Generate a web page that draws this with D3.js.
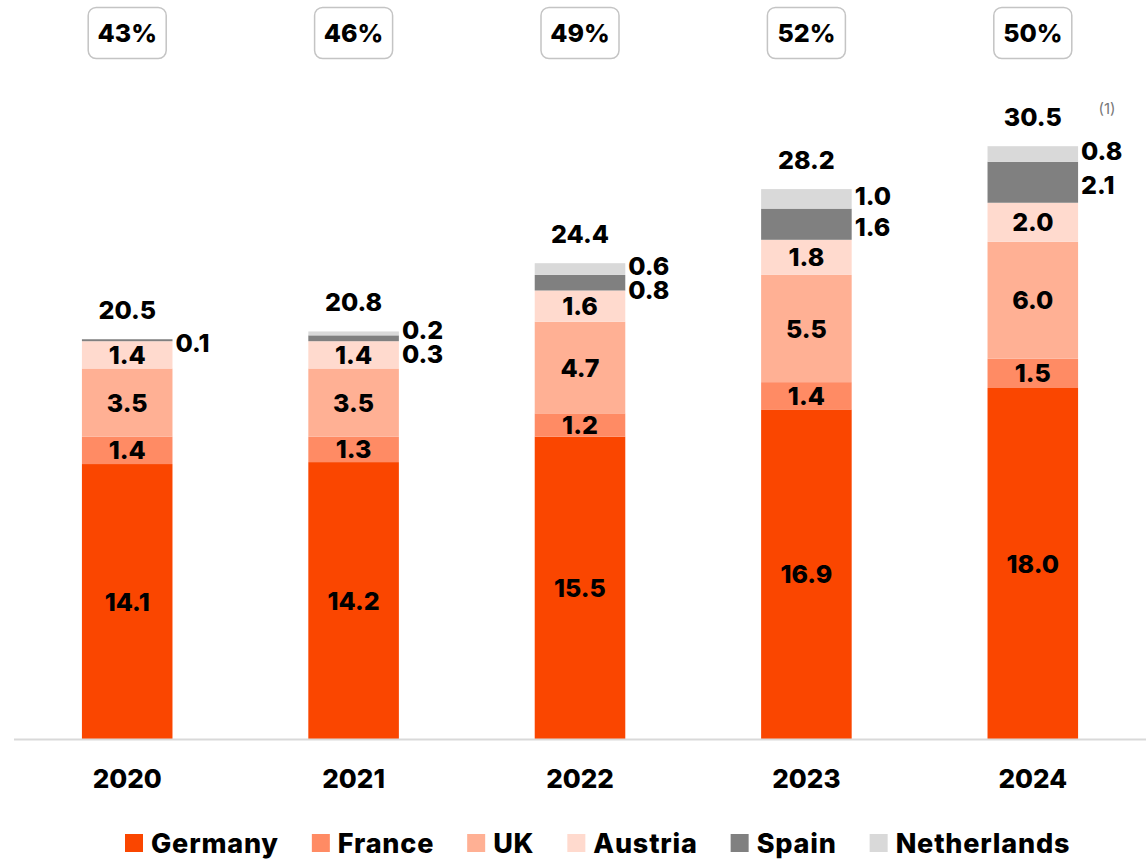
<!DOCTYPE html>
<html>
<head>
  <meta charset="utf-8">
  <script src="https://d3js.org/d3.v7.min.js"></script>
  <style>
  body {
    margin: 0;
    background: #fff;
  }
  text {
    font-family: Inter, "DejaVu Sans", sans-serif;
    font-weight: 800;
    fill: #000;
  }
  .x.axis path.domain {
    stroke: #d9d9d9;
    stroke-width: 2;
  }
  .x.axis text {
    font-size: 26px;
  }
</style>
</head>
<body>
<script>

  var years = ["2020", "2021", "2022", "2023", "2024"];
  var countries = ["Germany", "France", "UK", "Austria", "Spain", "Netherlands"];
  var germany     = [14.1, 14.2, 15.5, 16.9, 18.0];
  var france      = [1.4, 1.3, 1.2, 1.4, 1.5];
  var uk          = [3.5, 3.5, 4.7, 5.5, 6.0];
  var austria     = [1.4, 1.4, 1.6, 1.8, 2.0];
  var spain       = [0.1, 0.3, 0.8, 1.6, 2.1];
  var netherlands = [0, 0.2, 0.6, 1.0, 0.8];
  var totals      = ["20.5", "20.8", "24.4", "28.2", "30.5"];
  var shares      = ["43%", "46%", "49%", "52%", "50%"];
  var colors = ["#fa4600", "#ff8b64", "#ffb094", "#ffdace", "#808080", "#d9d9d9"];

  var width = 1146, height = 860;

  var svg = d3.select("body").append("svg")
    .attr("width", width)
    .attr("height", height);

  var x = d3.scaleBand().domain(years).range([14, 1146])
    .paddingInner(0.6).paddingOuter(0.3);
  var y = d3.scaleLinear().domain([0, 32]).range([739, 739 - 19.5 * 32]);

  var series = [germany, france, uk, austria, spain, netherlands];
  var table = years.map((yr, i) => {
    var row = {year: yr};
    countries.forEach((c, k) => { row[c] = series[k][i]; });
    return row;
  });
  var stacked = d3.stack().keys(countries)(table);

  // bars
  svg.append("g").selectAll("g")
    .data(stacked)
    .enter().append("g")
      .attr("fill", (d, k) => colors[k])
    .selectAll("rect")
    .data(d => d)
    .enter().append("rect")
      .attr("x", d => x(d.data.year))
      .attr("width", x.bandwidth())
      .attr("y", d => y(d[1]))
      .attr("height", d => y(d[0]) - y(d[1]));

  // axis
  svg.append("g")
    .attr("class", "x axis")
    .attr("transform", "translate(0," + y(0) + ")")
    .call(d3.axisBottom(x).tickSize(0).tickPadding(31))
    .call(g => g.select(".domain").attr("d", "M14,0.5H1146"));

  // labels inside (first four series)
  stacked.slice(0, 4).forEach(s => {
    svg.append("g").selectAll("text")
      .data(s)
      .enter().append("text")
        .attr("x", d => x(d.data.year) + x.bandwidth() / 2)
        .attr("y", d => (y(d[0]) + y(d[1])) / 2)
        .attr("dy", "0.36em")
        .attr("text-anchor", "middle")
        .style("font-size", "25px")
        .text(d => d[1] - d[0] > 0 ? (d[1] - d[0]).toFixed(1) : "");
  });

  // side labels for Spain and Netherlands
  years.forEach((yr, i) => {
    var es = stacked[4][i], nl = stacked[5][i];
    var lx = x(yr) + x.bandwidth() + 3;
    var nlY = null;
    if (netherlands[i] > 0) {
      nlY = (y(nl[0]) + y(nl[1])) / 2 - 3;
      svg.append("text")
        .attr("x", lx).attr("y", nlY).attr("dy", "0.36em")
        .style("font-size", "25px")
        .text(netherlands[i].toFixed(1));
    }
    var esY = (y(es[0]) + y(es[1])) / 2 + 3;
    if (nlY !== null) esY = Math.max(esY, nlY + 24);
    svg.append("text")
      .attr("x", lx).attr("y", esY).attr("dy", "0.36em")
      .style("font-size", "25px")
      .text(spain[i].toFixed(1));
  });

  // totals
  svg.append("g").selectAll("text")
    .data(stacked[5])
    .enter().append("text")
      .attr("x", d => x(d.data.year) + x.bandwidth() / 2)
      .attr("y", d => y(d[1]) - 20)
      .attr("text-anchor", "middle")
      .style("font-size", "25px")
      .text((d, i) => totals[i]);

  svg.append("text")
    .attr("x", 1107).attr("y", 114)
    .attr("text-anchor", "middle")
    .style("font-size", "15px")
    .style("font-weight", "400")
    .style("fill", "#777")
    .text("(1)");

  // share boxes
  var box = svg.append("g").selectAll("g")
    .data(years)
    .enter().append("g")
      .attr("transform", d => "translate(" + (x(d) + x.bandwidth() / 2) + ",33)");
  box.append("rect")
    .attr("x", -39).attr("y", -25.5)
    .attr("width", 78).attr("height", 51)
    .attr("rx", 8)
    .attr("fill", "#fff")
    .attr("stroke", "#c4c4c4")
    .attr("stroke-width", 1.5);
  box.append("text")
    .attr("text-anchor", "middle")
    .attr("dy", "0.36em")
    .style("font-size", "25px")
    .text((d, i) => shares[i]);

  // legend
  var legend = svg.append("g").attr("transform", "translate(125,843)");
  var lx = 0;
  countries.forEach((c, k) => {
    legend.append("rect")
      .attr("x", lx).attr("y", -9)
      .attr("width", 18).attr("height", 18)
      .attr("fill", colors[k]);
    var t = legend.append("text")
      .attr("x", lx + 26).attr("dy", "0.36em")
      .style("font-size", "27px")
      .style("letter-spacing", "0.8px")
      .text(c);
    lx += 26 + t.node().getComputedTextLength() + 33;
  });

</script>
</body>
</html>
